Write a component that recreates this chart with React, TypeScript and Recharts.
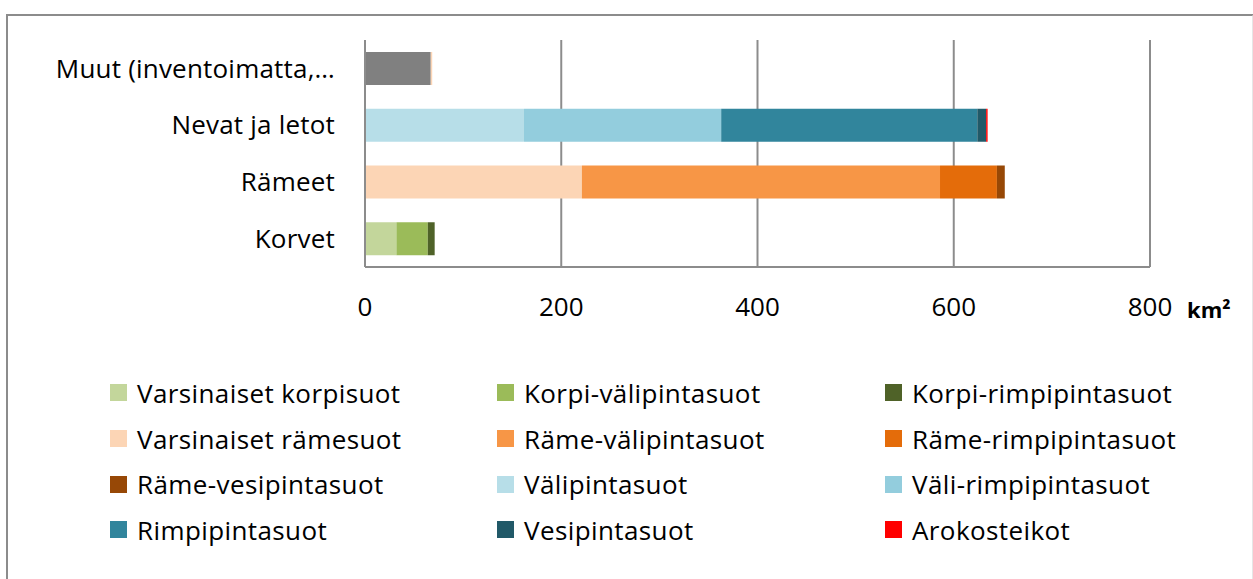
import { BarChart, Bar, XAxis, YAxis, CartesianGrid, Legend } from "recharts";

const categories = ["Muut (inventoimatta,…", "Nevat ja letot", "Rämeet", "Korvet"];

const seriesNames = [
  "Varsinaiset korpisuot",
  "Korpi-välipintasuot",
  "Korpi-rimpipintasuot",
  "Varsinaiset rämesuot",
  "Räme-välipintasuot",
  "Räme-rimpipintasuot",
  "Räme-vesipintasuot",
  "Välipintasuot",
  "Väli-rimpipintasuot",
  "Rimpipintasuot",
  "Vesipintasuot",
  "Arokosteikot",
];

const colors = [
  "#C3D69B",
  "#9BBB59",
  "#4F6228",
  "#FCD5B5",
  "#F79646",
  "#E46C0A",
  "#974806",
  "#B7DEE8",
  "#93CDDD",
  "#31859C",
  "#215968",
  "#FF0000",
];

// km² per category, in order: Muut, Nevat ja letot, Rämeet, Korvet
const muut = [67, 0, 0, 0];
const varsinaisetKorpisuot = [0, 0, 0, 32];
const korpiValipinta = [0, 0, 0, 32];
const korpiRimpipinta = [0, 0, 0, 7];
const varsinaisetRamesuot = [1.5, 0, 221, 0];
const rameValipinta = [0, 0, 365, 0];
const rameRimpipinta = [0, 0, 58, 0];
const rameVesipinta = [0, 0, 8, 0];
const valipintasuot = [0, 162, 0, 0];
const valiRimpipinta = [0, 201, 0, 0];
const rimpipintasuot = [0, 261, 0, 0];
const vesipintasuot = [0, 9, 0, 0];
const arokosteikot = [0, 1.5, 0, 0];

const seriesValues = [
  varsinaisetKorpisuot,
  korpiValipinta,
  korpiRimpipinta,
  varsinaisetRamesuot,
  rameValipinta,
  rameRimpipinta,
  rameVesipinta,
  valipintasuot,
  valiRimpipinta,
  rimpipintasuot,
  vesipintasuot,
  arokosteikot,
];

const xTicks = [0, 200, 400, 600, 800];

const data = categories.map((name, i) => {
  const row: Record<string, number | string> = { name, Muut: muut[i] };
  seriesNames.forEach((s, k) => {
    row[s] = seriesValues[k][i];
  });
  return row;
});

const FONT = "'Open Sans', Arial, sans-serif";

const LegendGrid = () => (
  <div
    style={{
      display: "grid",
      gridTemplateColumns: "387px 388px 360px",
      fontFamily: FONT,
      fontSize: 26,
      letterSpacing: 0.4,
      color: "#000",
    }}
  >
    {seriesNames.map((s, k) => (
      <div
        key={s}
        style={{ display: "flex", alignItems: "center", height: 45.7 }}
      >
        <span
          style={{
            width: 17,
            height: 17,
            background: colors[k],
            display: "inline-block",
            marginRight: 10,
            flexShrink: 0,
          }}
        />
        <span style={{ whiteSpace: "nowrap" }}>{s}</span>
      </div>
    ))}
  </div>
);

const App = () => {
  return (
    <div
      style={{
        position: "absolute",
        left: 6,
        top: 14,
        width: 1244,
        height: 580,
        border: "2px solid #8C8C8C",
        borderRight: "2px solid #E6E6E6",
        background: "#fff",
      }}
    >
      <div style={{ position: "absolute", left: 0, top: 0 }}>
        <BarChart
          width={1240}
          height={560}
          data={data}
          layout="vertical"
          barSize={33}
          margin={{ top: 24, right: 98, left: 0, bottom: 260 }}
        >
          <CartesianGrid
            horizontal={false}
            stroke="#8C8C8C"
            strokeWidth={2}
          />
          <XAxis
            type="number"
            domain={[0, 800]}
            ticks={xTicks}
            height={49}
            axisLine={{ stroke: "#8C8C8C", strokeWidth: 2 }}
            tickLine={false}
            tickMargin={25}
            tick={{ fill: "#000", fontSize: 26, fontFamily: FONT }}
          />
          <YAxis
            type="category"
            dataKey="name"
            width={357}
            axisLine={{ stroke: "#8C8C8C", strokeWidth: 2 }}
            tickLine={false}
            tickMargin={24}
            tick={{
              fill: "#000",
              fontSize: 26,
              fontFamily: FONT,
              letterSpacing: 0.2,
            }}
          />
          <Legend
            layout="horizontal"
            verticalAlign="middle"
            content={() => <LegendGrid />}
            wrapperStyle={{ top: 354, left: 102, width: 1140 }}
          />
          <Bar
            dataKey="Muut"
            stackId="a"
            fill="#808080"
            legendType="none"
            isAnimationActive={false}
          />
          {seriesNames.map((s, k) => (
            <Bar
              key={s}
              dataKey={s}
              stackId="a"
              fill={colors[k]}
              isAnimationActive={false}
            />
          ))}
        </BarChart>
        <div
          style={{
            position: "absolute",
            left: 1179,
            top: 278,
            fontFamily: FONT,
            fontWeight: "bold",
            fontSize: 22,
          }}
        >
          km²
        </div>
      </div>
    </div>
  );
};

export default App;
